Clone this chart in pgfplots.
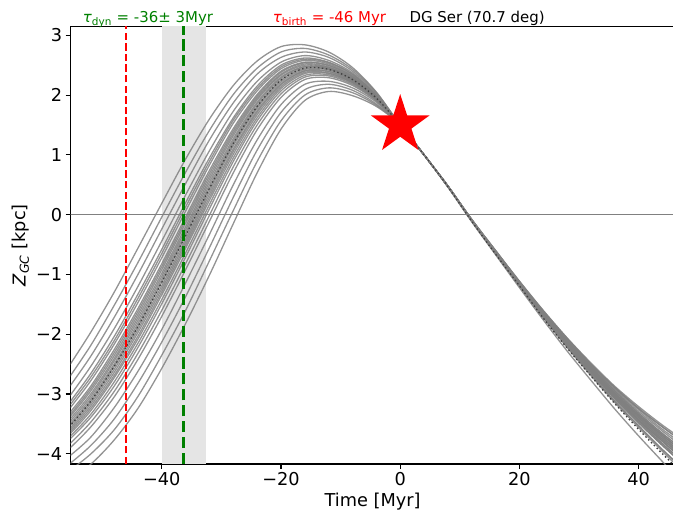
\documentclass[border=0pt]{standalone}
\usepackage{fontspec}
\setmainfont{DejaVu Sans}
\usepackage{pgfplots}
\pgfplotsset{compat=1.18}
\usepackage{pgfplotstable}
\definecolor{mplgreen}{RGB}{0,128,0}
\definecolor{bandgray}{RGB}{229,229,229}
\definecolor{orbitgray}{RGB}{128,128,128}

\pgfdeclareplotmark{fstar}{%
  \pgfpathmoveto{\pgfpointpolar{90}{\pgfplotmarksize}}%
  \pgfpathlineto{\pgfpointpolar{126}{0.382*\pgfplotmarksize}}%
  \pgfpathlineto{\pgfpointpolar{162}{\pgfplotmarksize}}%
  \pgfpathlineto{\pgfpointpolar{198}{0.382*\pgfplotmarksize}}%
  \pgfpathlineto{\pgfpointpolar{234}{\pgfplotmarksize}}%
  \pgfpathlineto{\pgfpointpolar{270}{0.382*\pgfplotmarksize}}%
  \pgfpathlineto{\pgfpointpolar{306}{\pgfplotmarksize}}%
  \pgfpathlineto{\pgfpointpolar{342}{0.382*\pgfplotmarksize}}%
  \pgfpathlineto{\pgfpointpolar{18}{\pgfplotmarksize}}%
  \pgfpathlineto{\pgfpointpolar{54}{0.382*\pgfplotmarksize}}%
  \pgfpathclose\pgfusepathqfill}

\pgfplotstableread{
t c1 c2 c3 c4 c5 c6 c7 c8 c9 c10 c11 c12 c13 c14 c15 c16 c17 c18 c19 c20 c21 c22 c23 c24 c25 c26 cd
-56 -2.60 -2.79 -2.95 -3.11 -3.21 -3.31 -3.38 -3.45 -3.53 -3.60 -3.67 -3.73 -3.81 -3.96 -4.08 -4.21 -4.32 -4.44 -3.26 -3.42 -3.49 -3.57 -3.64 -3.70 -3.77 -3.89 -3.60
-52 -1.98 -2.20 -2.38 -2.55 -2.67 -2.79 -2.88 -2.96 -3.05 -3.13 -3.21 -3.29 -3.40 -3.56 -3.73 -3.87 -4.01 -4.18 -2.73 -2.92 -3.01 -3.09 -3.17 -3.25 -3.35 -3.48 -3.13
-48 -1.30 -1.52 -1.72 -1.91 -2.04 -2.17 -2.26 -2.36 -2.45 -2.54 -2.64 -2.73 -2.87 -3.05 -3.23 -3.42 -3.60 -3.77 -2.11 -2.31 -2.41 -2.50 -2.59 -2.69 -2.80 -2.96 -2.54
-44 -0.56 -0.80 -1.00 -1.20 -1.33 -1.47 -1.57 -1.67 -1.77 -1.87 -1.97 -2.08 -2.22 -2.42 -2.62 -2.82 -3.04 -3.24 -1.40 -1.62 -1.72 -1.82 -1.92 -2.03 -2.15 -2.32 -1.87
-40 0.19 -0.04 -0.24 -0.44 -0.58 -0.72 -0.82 -0.92 -1.03 -1.13 -1.24 -1.34 -1.49 -1.70 -1.92 -2.13 -2.35 -2.57 -0.65 -0.87 -0.98 -1.08 -1.19 -1.29 -1.42 -1.60 -1.13
-36 0.93 0.71 0.52 0.33 0.20 0.06 -0.04 -0.14 -0.25 -0.35 -0.46 -0.56 -0.71 -0.92 -1.14 -1.37 -1.60 -1.82 0.13 -0.09 -0.20 -0.30 -0.41 -0.51 -0.64 -0.82 -0.35
-32 1.60 1.41 1.25 1.07 0.95 0.83 0.74 0.64 0.54 0.44 0.34 0.24 0.10 -0.11 -0.33 -0.55 -0.77 -1.01 0.89 0.69 0.59 0.49 0.39 0.29 0.17 -0.01 0.44
-28 2.16 2.01 1.87 1.73 1.62 1.53 1.44 1.36 1.27 1.19 1.10 1.01 0.89 0.70 0.50 0.29 0.07 -0.15 1.58 1.40 1.32 1.23 1.15 1.06 0.95 0.80 1.19
-24 2.57 2.45 2.35 2.23 2.15 2.07 2.01 1.95 1.88 1.81 1.74 1.67 1.57 1.42 1.25 1.08 0.89 0.70 2.11 1.98 1.92 1.85 1.78 1.71 1.62 1.50 1.81
-20 2.81 2.72 2.63 2.55 2.50 2.44 2.40 2.35 2.30 2.25 2.19 2.14 2.07 1.96 1.84 1.71 1.57 1.43 2.47 2.38 2.33 2.28 2.22 2.17 2.11 2.02 2.25
-16 2.84 2.78 2.72 2.66 2.62 2.58 2.55 2.52 2.48 2.45 2.41 2.38 2.33 2.26 2.18 2.09 2.00 1.91 2.60 2.54 2.50 2.47 2.43 2.40 2.36 2.30 2.45
-12 2.72 2.67 2.63 2.58 2.55 2.52 2.50 2.47 2.45 2.43 2.40 2.37 2.34 2.29 2.23 2.18 2.12 2.06 2.54 2.49 2.46 2.44 2.42 2.39 2.36 2.32 2.43
-8 2.46 2.43 2.40 2.37 2.35 2.32 2.31 2.29 2.27 2.26 2.24 2.22 2.20 2.16 2.12 2.08 2.04 1.99 2.34 2.30 2.28 2.27 2.25 2.23 2.21 2.18 2.26
-4 2.05 2.04 2.02 2.00 1.99 1.98 1.97 1.97 1.96 1.95 1.94 1.93 1.92 1.90 1.88 1.85 1.83 1.81 1.99 1.97 1.97 1.96 1.95 1.94 1.93 1.91 1.95
0 1.50 1.50 1.50 1.50 1.50 1.50 1.50 1.50 1.50 1.50 1.50 1.50 1.50 1.50 1.50 1.50 1.50 1.50 1.50 1.50 1.50 1.50 1.50 1.50 1.50 1.50 1.50
4 1.00 1.00 1.00 1.00 1.00 1.00 1.00 1.00 1.00 1.00 1.00 1.00 1.00 1.00 1.00 1.00 1.00 1.00 1.00 1.00 1.00 1.00 1.00 1.00 1.00 1.00 1.00
8 0.47 0.48 0.47 0.48 0.47 0.47 0.48 0.47 0.47 0.48 0.47 0.46 0.48 0.48 0.47 0.48 0.47 0.47 0.47 0.48 0.47 0.47 0.48 0.48 0.47 0.47 0.47
12 -0.10 -0.09 -0.10 -0.08 -0.09 -0.10 -0.09 -0.11 -0.09 -0.08 -0.10 -0.12 -0.09 -0.08 -0.10 -0.09 -0.09 -0.10 -0.10 -0.09 -0.09 -0.10 -0.09 -0.08 -0.10 -0.09 -0.11
16 -0.63 -0.62 -0.65 -0.60 -0.63 -0.64 -0.62 -0.65 -0.62 -0.61 -0.64 -0.67 -0.62 -0.60 -0.63 -0.61 -0.63 -0.64 -0.64 -0.62 -0.63 -0.65 -0.62 -0.60 -0.63 -0.62 -0.66
20 -1.16 -1.14 -1.18 -1.11 -1.15 -1.17 -1.13 -1.19 -1.15 -1.12 -1.16 -1.22 -1.14 -1.12 -1.16 -1.13 -1.15 -1.17 -1.16 -1.13 -1.15 -1.18 -1.14 -1.12 -1.16 -1.15 -1.19
24 -1.67 -1.65 -1.71 -1.60 -1.66 -1.69 -1.64 -1.72 -1.65 -1.62 -1.68 -1.76 -1.65 -1.61 -1.67 -1.63 -1.66 -1.69 -1.68 -1.64 -1.66 -1.71 -1.65 -1.61 -1.67 -1.65 -1.73
28 -2.16 -2.12 -2.20 -2.06 -2.14 -2.18 -2.11 -2.22 -2.13 -2.08 -2.17 -2.28 -2.12 -2.07 -2.16 -2.10 -2.14 -2.18 -2.17 -2.11 -2.14 -2.20 -2.12 -2.07 -2.16 -2.13 -2.23
32 -2.61 -2.56 -2.67 -2.48 -2.59 -2.64 -2.54 -2.69 -2.58 -2.51 -2.62 -2.77 -2.56 -2.50 -2.61 -2.53 -2.58 -2.64 -2.62 -2.54 -2.59 -2.67 -2.56 -2.50 -2.61 -2.58 -2.70
36 -3.04 -2.98 -3.12 -2.87 -3.02 -3.08 -2.95 -3.14 -3.00 -2.91 -3.06 -3.25 -2.98 -2.89 -3.04 -2.93 -3.01 -3.08 -3.06 -2.95 -3.02 -3.12 -2.98 -2.89 -3.04 -3.00 -3.16
40 -3.43 -3.35 -3.53 -3.21 -3.40 -3.48 -3.32 -3.56 -3.37 -3.26 -3.45 -3.70 -3.35 -3.24 -3.43 -3.29 -3.39 -3.48 -3.45 -3.32 -3.40 -3.53 -3.35 -3.24 -3.43 -3.37 -3.59
44 -3.79 -3.69 -3.93 -3.52 -3.76 -3.86 -3.66 -3.96 -3.72 -3.59 -3.83 -4.13 -3.69 -3.55 -3.79 -3.62 -3.74 -3.86 -3.83 -3.66 -3.76 -3.93 -3.69 -3.55 -3.79 -3.72 -4.00
48 -4.14 -4.01 -4.30 -3.80 -4.09 -4.22 -3.97 -4.35 -4.05 -3.88 -4.18 -4.56 -4.01 -3.84 -4.14 -3.93 -4.07 -4.22 -4.18 -3.97 -4.09 -4.30 -4.01 -3.84 -4.14 -4.05 -4.39
}\orbits

\begin{document}
\begin{tikzpicture}
\begin{axis}[
  name=ax,
  scale only axis,
  width=604bp, height=437.7bp,
  xmin=-55.3, xmax=46.04,
  ymin=-4.17, ymax=3.15,
  axis line style={black, line width=1.1bp},
  tick pos=left,
  tick align=outside,
  major tick length=4.9bp,
  tick style={black, line width=1.1bp},
  xtick={-40,-20,0,20,40},
  xticklabels={−40,−20,0,20,40},
  ytick={-4,-3,-2,-1,0,1,2,3},
  yticklabels={−4,−3,−2,−1,0,1,2,3},
  tick label style={font=\fontsize{17.8}{20}\selectfont},
  label style={font=\fontsize{17.8}{20}\selectfont},
  xlabel={Time [Myr]},
  ylabel={\textit{Z}\textsubscript{\textit{GC}} [kpc]},
]
\addplot[fill=bandgray, draw=none] coordinates {(-40,-4.17) (-32.6,-4.17) (-32.6,3.15) (-40,3.15)};
\addplot[orbitgray, line width=0.8bp] coordinates {(-56,0) (47,0)};
\pgfplotsinvokeforeach{1,...,26}{
  \addplot[orbitgray, opacity=0.85, line width=1.3bp, smooth] table[x=t, y=c#1]{\orbits};
}
\addplot[black!75, line width=1.3bp, dash pattern=on 1.5bp off 2.5bp, smooth] table[x=t, y=cd]{\orbits};
\addplot[red, line width=2bp, dash pattern=on 7.4bp off 3.2bp] coordinates {(-46.06,-4.17) (-46.06,3.15)};
\addplot[mplgreen, line width=3bp, dash pattern=on 11.1bp off 4.8bp] coordinates {(-36.3,-4.17) (-36.3,3.15)};
\addplot[only marks, mark=fstar, mark size=31, color=red] coordinates {(0,1.5)};
\end{axis}
\node[anchor=base west, text=mplgreen, font=\fontsize{15}{18}\selectfont, inner sep=0pt] at ([shift={(12.1bp,3.6bp)}]ax.north west) {\textit{τ}\textsubscript{dyn} = -36± 3Myr};
\node[anchor=base west, text=red, font=\fontsize{15}{18}\selectfont, inner sep=0pt] at ([shift={(202.1bp,3.6bp)}]ax.north west) {\textit{τ}\textsubscript{birth} = -46 Myr};
\node[anchor=base west, text=black, font=\fontsize{15}{18}\selectfont, inner sep=0pt] at ([shift={(338.7bp,3.6bp)}]ax.north west) {DG Ser (70.7 deg)};
\pgfresetboundingbox
\path[use as bounding box] ([shift={(-70.6bp,-50bp)}]ax.south west) rectangle ([shift={(602.4bp,464bp)}]ax.south west);
\end{tikzpicture}
\end{document}
